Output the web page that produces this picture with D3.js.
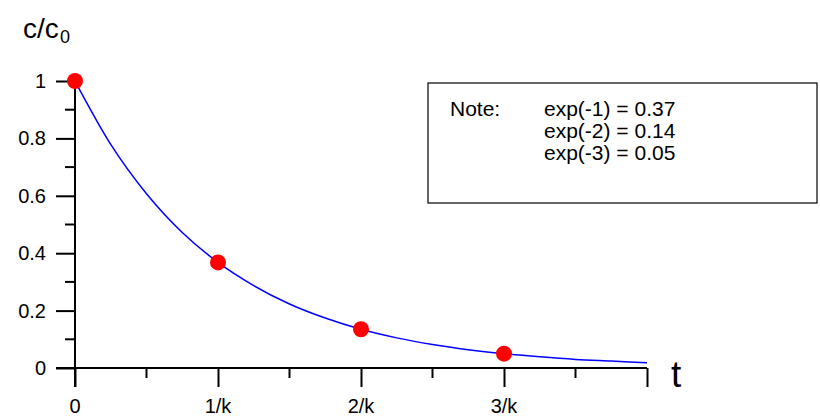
<!DOCTYPE html>
<html><head><meta charset="utf-8">
<script src="https://cdn.jsdelivr.net/npm/d3@7"></script>
<style>body{margin:0;background:#fff}svg{display:block}</style>
</head><body><svg id="c" width="820" height="418" font-family="Arial, 'Liberation Sans', sans-serif"></svg>
<script>
const pointT = [0, 1, 2, 3];
const pointC = [1, 0.368, 0.135, 0.050];
const curveT = [0,0.25,0.5,0.75,1,1.25,1.5,1.75,2,2.25,2.5,2.75,3,3.25,3.5,3.75,4];
const curveC = [1,0.779,0.607,0.472,0.368,0.287,0.223,0.174,0.135,0.105,0.082,0.064,0.050,0.039,0.030,0.024,0.018];
const xTickVals = [0,1,2,3,4];
const xTickLabels = ["0","1/k","2/k","3/k",""];
const xMinor = [0.5,1.5,2.5,3.5];
const yTickVals = [0,0.2,0.4,0.6,0.8,1];
const yTickLabels = ["0","0.2","0.4","0.6","0.8","1"];
const yMinor = [0.1,0.3,0.5,0.7,0.9];
const noteLines = ["exp(-1) = 0.37","exp(-2) = 0.14","exp(-3) = 0.05"];

const svg = d3.select("#c");
const x = d3.scaleLinear().domain([0,4]).range([75,647]);
const y = d3.scaleLinear().domain([0,1]).range([368,81]);

// x axis ticks (labels drawn separately)
const xAxis = d3.axisBottom(x).tickValues(xTickVals).tickSize(19).tickSizeOuter(0).tickFormat("");
const gx = svg.append("g").attr("transform",`translate(0,${y(0)})`).call(xAxis);
gx.select(".domain").remove();
gx.selectAll("line").attr("stroke","#000").attr("stroke-width",2);
gx.selectAll(".minor").data(xMinor).enter().append("line")
  .attr("x1",d=>x(d)).attr("x2",d=>x(d)).attr("y1",0).attr("y2",10)
  .attr("stroke","#000").attr("stroke-width",2);
svg.selectAll(".xl").data(xTickVals).enter().append("text")
  .attr("x",d=>x(d)).attr("y",413).attr("text-anchor","middle")
  .style("font-size","20px").attr("fill","#000")
  .text((d,i)=>xTickLabels[i]);

// y axis ticks
const yAxis = d3.axisLeft(y).tickValues(yTickVals).tickSize(19).tickSizeOuter(0).tickFormat("");
const gy = svg.append("g").attr("transform",`translate(${x(0)},0)`).call(yAxis);
gy.select(".domain").remove();
gy.selectAll("line").attr("stroke","#000").attr("stroke-width",2);
gy.selectAll(".minor").data(yMinor).enter().append("line")
  .attr("y1",d=>y(d)).attr("y2",d=>y(d)).attr("x1",0).attr("x2",-10)
  .attr("stroke","#000").attr("stroke-width",2);
svg.selectAll(".yl").data(yTickVals).enter().append("text")
  .attr("x",46).attr("y",d=>y(d)+7).attr("text-anchor","end")
  .style("font-size","20px").attr("fill","#000")
  .text((d,i)=>yTickLabels[i]);

// axis lines
svg.append("line").attr("x1",x(0)-19).attr("x2",x(4)).attr("y1",y(0)).attr("y2",y(0))
  .attr("stroke","#000").attr("stroke-width",2);
svg.append("line").attr("x1",x(0)).attr("x2",x(0)).attr("y1",y(1)).attr("y2",y(0)+19)
  .attr("stroke","#000").attr("stroke-width",2);

// curve
const data = curveT.map((t,i)=>[t,curveC[i]]);
svg.append("path").datum(data)
  .attr("d",d3.line().x(d=>x(d[0])).y(d=>y(d[1])).curve(d3.curveMonotoneX))
  .attr("fill","none").attr("stroke","#0000ff").attr("stroke-width",1.5);

// points
svg.selectAll(".pt").data(pointT).enter().append("circle")
  .attr("cx",d=>x(d)).attr("cy",(d,i)=>y(pointC[i])).attr("r",8).attr("fill","#ff0000");

// axis titles
svg.append("text").attr("x",23).attr("y",38).style("font-size","28px").attr("fill","#000").text("c/c");
svg.append("text").attr("x",60).attr("y",43).style("font-size","18px").attr("fill","#000").text("0");
svg.append("text").attr("x",671).attr("y",387).style("font-size","37px").attr("fill","#000").text("t");

// note box
svg.append("rect").attr("x",428).attr("y",83).attr("width",389).attr("height",120)
  .attr("fill","#fff").attr("stroke","#000").attr("stroke-width",1.2);
svg.append("text").attr("x",450).attr("y",116).style("font-size","21px").text("Note:");
svg.selectAll(".nl").data(noteLines).enter().append("text")
  .attr("x",544).attr("y",(d,i)=>116+i*22).style("font-size","21px").text(d=>d);
</script></body></html>
